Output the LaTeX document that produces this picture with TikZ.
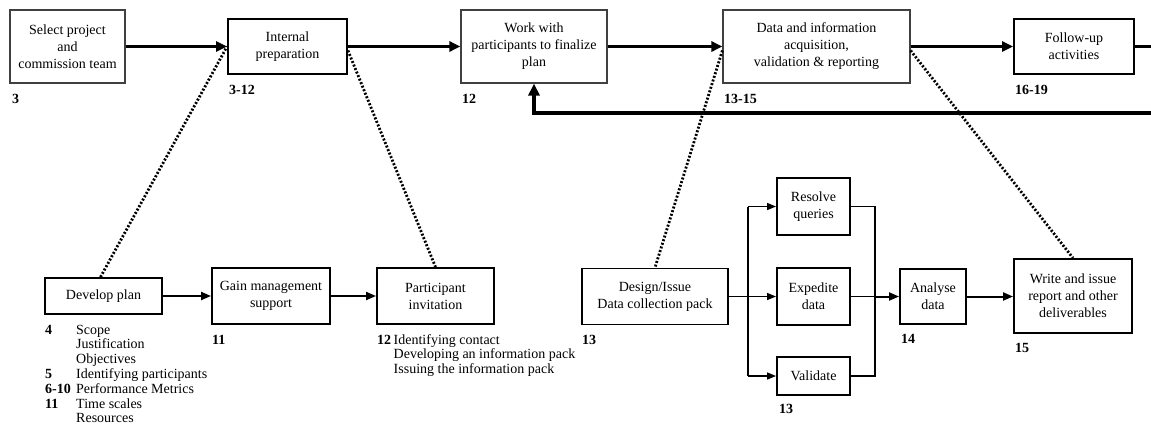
\documentclass[tikz,border=0pt]{standalone}
\usepackage{fontspec}
\setmainfont{Liberation Serif}
\usetikzlibrary{arrows.meta}
\begin{document}
\begin{tikzpicture}[x=1pt,y=-1pt,
  box/.style={draw=black, line width=1.9pt, rectangle, inner sep=0pt, align=center,
    font=\fontsize{14}{17}\selectfont},
  thinbox/.style={box, draw=black!75, line width=1.2pt},
  num/.style={anchor=base west, inner sep=0pt, font=\fontsize{14}{15}\selectfont\bfseries},
  notes/.style={anchor=base west, inner sep=0pt, font=\fontsize{14}{14.8}\selectfont},
  mainarrow/.style={line width=3pt, -{Triangle[length=11pt,width=10pt]}},
  feedback/.style={line width=3.8pt, -{Triangle[length=12pt,width=11pt]}},
  flowarrow/.style={line width=2pt, -{Triangle[length=10pt,width=8pt]}},
  branch/.style={line width=1.4pt},
  brancharrow/.style={line width=1.4pt, -{Triangle[length=9pt,width=7pt]}},
  link/.style={line width=2.8pt, dash pattern=on 2pt off 1.8pt}
]
\useasboundingbox (0,0) rectangle (1151,426);
\clip (0,0) rectangle (1151,426);
\fill[white] (0,0) rectangle (1151,426);

% top row
\node[thinbox, minimum width=115pt, minimum height=73pt] (sel) at (67.5,46.5) {Select project\\and\\commission team};
\node[box, minimum width=119pt, minimum height=55pt] (int) at (287.5,46.5) {Internal\\preparation};
\node[thinbox, minimum width=146pt, minimum height=73pt] (work) at (534,46.5) {Work with\\participants to finalize\\plan};
\node[thinbox, minimum width=187pt, minimum height=73pt] (data) at (816.5,46.5) {Data and information\\acquisition,\\validation \& reporting};
\node[box, minimum width=120pt, minimum height=55pt] (fol) at (1074,46.5) {Follow-up\\activities};

\node[num] (lsel) at (12,103) {3};
\node[num] (lint) at (229,94) {3-12};
\node[num] (lwork) at (462,103) {12};
\node[num] (ldata) at (724,103) {13-15};
\node[num] (lfol) at (1015,94) {16-19};

% bottom row
\node[box, minimum width=117pt, minimum height=36pt] (dev) at (103.5,296) {Develop plan};
\node[box, minimum width=118pt, minimum height=56pt] (gain) at (271,296) {Gain management\\support};
\node[box, minimum width=117pt, minimum height=56pt] (part) at (435.5,296) {Participant\\invitation};
\node[box, minimum width=146pt, minimum height=56pt] (des) at (655,296.5) {Design/Issue\\Data collection pack};
\node[box, minimum width=73pt, minimum height=57pt] (res) at (813.5,206.5) {Resolve\\queries};
\node[box, minimum width=73pt, minimum height=57pt] (exp) at (813.5,296.5) {Expedite\\data};
\node[box, minimum width=73pt, minimum height=38pt] (val) at (813.5,376) {Validate};
\node[box, minimum width=66pt, minimum height=55pt] (ana) at (933,296.5) {Analyse\\data};
\node[box, minimum width=118pt, minimum height=74pt] (wri) at (1073,296) {Write and issue\\report and other\\deliverables};

\node[notes] (ldev) at (45,334) {%
  \begin{tabular}[t]{@{}l@{}l@{}}
  \makebox[31pt][l]{\textbf{4}} & Scope\\
  & Justification\\
  & Objectives\\
  \textbf{5} & Identifying participants\\
  \textbf{6-10} & Performance Metrics\\
  \textbf{11} & Time scales\\
  & Resources
  \end{tabular}};
\node[num] (lgain) at (212,344) {11};
\node[notes] (lpart) at (377,344) {%
  \begin{tabular}[t]{@{}l@{}l@{}}
  \makebox[16.5pt][l]{\textbf{12}} & Identifying contact\\
  & Developing an information pack\\
  & Issuing the information pack
  \end{tabular}};
\node[num] (ldes) at (582,344) {13};
\node[num] (lval) at (779,413) {13};
\node[num] (lana) at (901,343) {14};
\node[num] (lwri) at (1015,352) {15};

% main sequence
\draw[mainarrow] (sel.east) -- (int.west);
\draw[mainarrow] (int.east) -- (work.west);
\draw[mainarrow] (work.east) -- (data.west);
\draw[mainarrow] (data.east) -- (fol.west);
\coordinate (loopout) at (1170,46.5);
\coordinate (loopback) at (1170,113);
\draw[feedback] (fol.east) -- (loopout) -- (loopback) -| (work.south);

% lower sequence
\draw[flowarrow] (dev.east) -- (gain.west);
\draw[flowarrow] (gain.east) -- (part.west);

% parallel data collection tasks
\coordinate (split) at (748,296.5);
\coordinate (join) at (875,296.5);
\draw[branch] (des.east) -- (split);
\draw[branch] (split |- res.west) -- (split |- val.west);
\draw[brancharrow] (split |- res.west) -- (res.west);
\draw[brancharrow] (split) -- (exp.west);
\draw[brancharrow] (split |- val.west) -- (val.west);
\draw[branch] (res.east) -- (join |- res.east) -- (join |- val.east) -- (val.east);
\draw[branch] (exp.east) -- (join);
\draw[flowarrow] (join) -- (ana.west);
\draw[flowarrow] (ana.east) -- (ana.east -| wri.west);

% dotted links between phases and detailed steps
\draw[link] ([xshift=-3pt]dev.north) -- (int.west);
\draw[link] ([yshift=-4pt]int.east) -- (part.north);
\draw[link] ([yshift=-4pt]data.west) -- (des.north);
\draw[link] ([yshift=-4pt]data.east) -- (wri.north);
\end{tikzpicture}
\end{document}
